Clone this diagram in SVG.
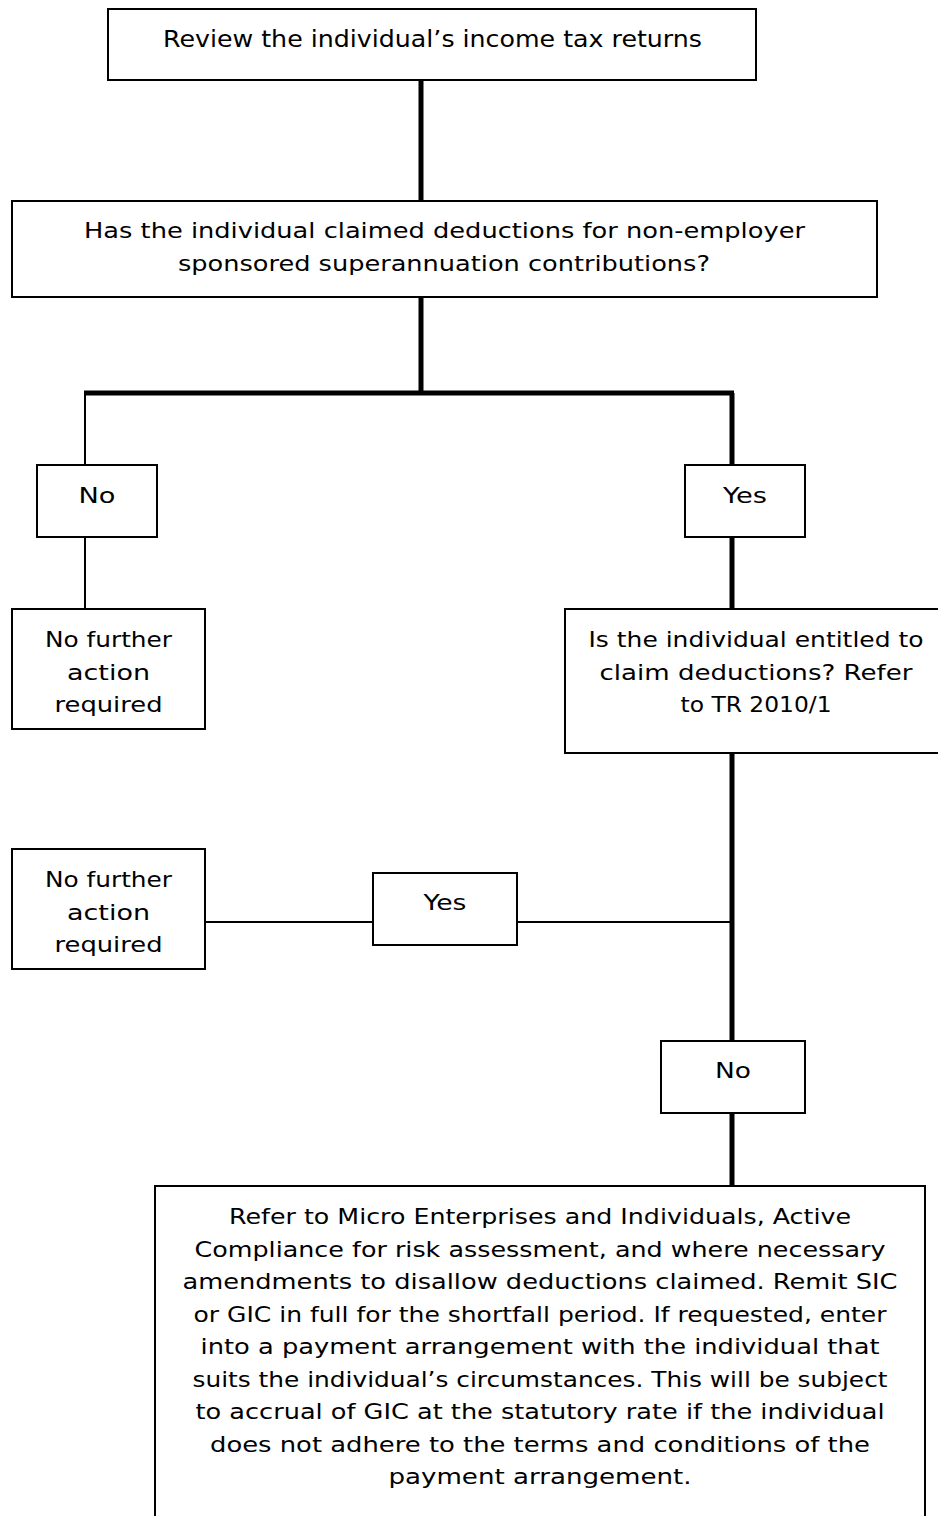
<svg xmlns="http://www.w3.org/2000/svg" width="938" height="1516" viewBox="0 0 938 1516">
<style>
.box{fill:#fff;stroke:#000;stroke-width:2}
.t{font-family:"DejaVu Sans","Liberation Sans",sans-serif;font-size:22px;fill:#000;text-anchor:middle}
.big{font-size:23px}
.thick{stroke:#000;stroke-width:5;fill:none}
.thin{stroke:#000;stroke-width:2;fill:none}
</style>
<rect width="938" height="1516" fill="#fff"/>
<g id="connectors">
<line class="thick" x1="421" y1="80" x2="421" y2="201"/>
<line class="thick" x1="421" y1="297" x2="421" y2="393"/>
<line class="thick" x1="84" y1="393" x2="734" y2="393"/>
<line class="thin" x1="85" y1="393" x2="85" y2="465"/>
<line class="thin" x1="85" y1="537" x2="85" y2="609"/>
<line class="thick" x1="732" y1="393" x2="732" y2="465"/>
<line class="thick" x1="732" y1="537" x2="732" y2="609"/>
<line class="thick" x1="732" y1="753" x2="732" y2="1041"/>
<line class="thick" x1="732" y1="1113" x2="732" y2="1186"/>
<line class="thin" x1="205" y1="922" x2="373" y2="922" stroke-width="2.5"/>
<line class="thin" x1="517" y1="922" x2="732" y2="922" stroke-width="2.5"/>
</g>
<g id="review">
<rect class="box" x="108" y="9" width="648" height="71"/>
<text class="t big" x="432.5" y="47" textLength="539" lengthAdjust="spacingAndGlyphs">Review the individual’s income tax returns</text>
</g>
<g id="claimed">
<rect class="box" x="12" y="201" width="865" height="96"/>
<text class="t" x="444.5" y="238" textLength="721" lengthAdjust="spacingAndGlyphs">Has the individual claimed deductions for non-employer</text>
<text class="t" x="444" y="271" textLength="532" lengthAdjust="spacingAndGlyphs">sponsored superannuation contributions?</text>
</g>
<g id="no1">
<rect class="box" x="37" y="465" width="120" height="72"/>
<text class="t" x="97" y="503" textLength="37" lengthAdjust="spacingAndGlyphs">No</text>
</g>
<g id="yes1">
<rect class="box" x="685" y="465" width="120" height="72"/>
<text class="t" x="745" y="503" textLength="44" lengthAdjust="spacingAndGlyphs">Yes</text>
</g>
<g id="nfa1">
<rect class="box" x="12" y="609" width="193" height="120"/>
<text class="t" x="108.5" y="647" textLength="127" lengthAdjust="spacingAndGlyphs">No further</text>
<text class="t" x="108.5" y="680" textLength="83" lengthAdjust="spacingAndGlyphs">action</text>
<text class="t" x="108.5" y="712" textLength="108" lengthAdjust="spacingAndGlyphs">required</text>
</g>
<g id="entitled">
<rect class="box" x="565" y="609" width="380" height="144"/>
<text class="t" x="756" y="647" textLength="335" lengthAdjust="spacingAndGlyphs">Is the individual entitled to</text>
<text class="t" x="756" y="680" textLength="313" lengthAdjust="spacingAndGlyphs">claim deductions? Refer</text>
<text class="t" x="756" y="712" textLength="151" lengthAdjust="spacingAndGlyphs">to TR 2010/1</text>
</g>
<g id="nfa2">
<rect class="box" x="12" y="849" width="193" height="120"/>
<text class="t" x="108.5" y="887" textLength="127" lengthAdjust="spacingAndGlyphs">No further</text>
<text class="t" x="108.5" y="920" textLength="83" lengthAdjust="spacingAndGlyphs">action</text>
<text class="t" x="108.5" y="952" textLength="108" lengthAdjust="spacingAndGlyphs">required</text>
</g>
<g id="yes2">
<rect class="box" x="373" y="873" width="144" height="72"/>
<text class="t" x="445" y="910" textLength="43" lengthAdjust="spacingAndGlyphs">Yes</text>
</g>
<g id="no2">
<rect class="box" x="661" y="1041" width="144" height="72"/>
<text class="t" x="733" y="1078" textLength="36" lengthAdjust="spacingAndGlyphs">No</text>
</g>
<g id="refer">
<rect class="box" x="155" y="1186" width="770" height="340"/>
<text class="t" x="540" y="1224" textLength="622" lengthAdjust="spacingAndGlyphs">Refer to Micro Enterprises and Individuals, Active</text>
<text class="t" x="540" y="1256.5" textLength="691" lengthAdjust="spacingAndGlyphs">Compliance for risk assessment, and where necessary</text>
<text class="t" x="540" y="1289" textLength="715" lengthAdjust="spacingAndGlyphs">amendments to disallow deductions claimed. Remit SIC</text>
<text class="t" x="540" y="1321.5" textLength="693" lengthAdjust="spacingAndGlyphs">or GIC in full for the shortfall period. If requested, enter</text>
<text class="t" x="540" y="1354" textLength="679" lengthAdjust="spacingAndGlyphs">into a payment arrangement with the individual that</text>
<text class="t" x="540" y="1386.5" textLength="695" lengthAdjust="spacingAndGlyphs">suits the individual’s circumstances. This will be subject</text>
<text class="t" x="540" y="1419" textLength="689" lengthAdjust="spacingAndGlyphs">to accrual of GIC at the statutory rate if the individual</text>
<text class="t" x="540" y="1451.5" textLength="660" lengthAdjust="spacingAndGlyphs">does not adhere to the terms and conditions of the</text>
<text class="t" x="540" y="1484" textLength="303" lengthAdjust="spacingAndGlyphs">payment arrangement.</text>
</g>
</svg>
